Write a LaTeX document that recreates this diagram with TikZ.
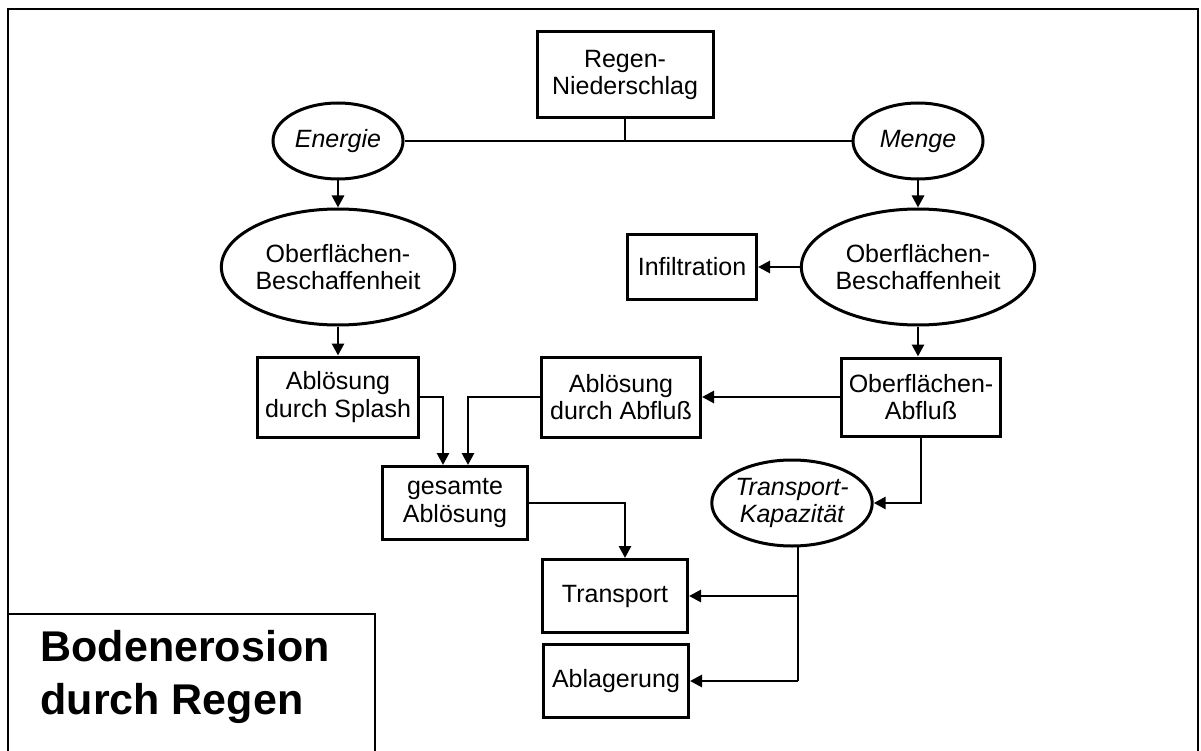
\documentclass[tikz,border=0pt]{standalone}
\usepackage{fontspec}
\setmainfont{Liberation Sans}
\usetikzlibrary{shapes.geometric,arrows.meta}
\tikzset{
  base/.style={draw, line width=3pt, align=center, inner sep=0pt, font=\fontsize{25}{27.5}\selectfont},
  boxnode/.style={base, rectangle},
  ellnode/.style={base, ellipse},
  conn/.style={line width=2.8pt},
  arr/.style={conn, -{Triangle[length=12pt,width=12pt]}},
  frameline/.style={line width=2.2pt}
}
\begin{document}
\begin{tikzpicture}[x=1pt,y=-1pt]
\useasboundingbox (0,0) rectangle (1201,751);
% frame
\draw[frameline] (8,751) -- (8,9) -- (1198,9) -- (1198,751);
\draw[frameline] (8,614) -- (375,614) -- (375,751);
\node[anchor=west, align=left, font=\fontsize{43}{53}\selectfont\bfseries] (title) at (37,677) {Bodenerosion\\durch Regen};

% nodes
\node[boxnode, minimum width=176pt, minimum height=86pt] (regen) at (625,75) {Regen-\\Niederschlag};
\node[ellnode, minimum width=130pt, minimum height=76pt] (energie) at (338,141) {\itshape Energie};
\node[ellnode, minimum width=130pt, minimum height=76pt] (menge) at (918,141) {\itshape Menge};
\node[ellnode, minimum width=216pt, minimum height=116pt] (obL) at (338,267) {Oberflächen-\\Beschaffenheit};
\node[ellnode, minimum width=216pt, minimum height=116pt] (obR) at (918,267) {Oberflächen-\\Beschaffenheit};
\node[boxnode, minimum width=129pt, minimum height=65pt] (infil) at (692,267) {Infiltration};
\node[boxnode, minimum width=161pt, minimum height=80pt] (splash) at (338,397) {Ablösung\\durch Splash};
\node[boxnode, minimum width=159pt, minimum height=80pt] (abfl) at (621,397) {Ablösung\\durch Abfluß};
\node[boxnode, minimum width=159pt, minimum height=78pt] (oa) at (921,397) {Oberflächen-\\Abfluß};
\node[boxnode, minimum width=145pt, minimum height=73pt] (ges) at (455,503) {gesamte\\Ablösung};
\node[ellnode, minimum width=160pt, minimum height=86pt] (tk) at (792,503) {\itshape Transport-\\\itshape Kapazität};
\node[boxnode, minimum width=145pt, minimum height=73pt] (transport) at (615,596) {Transport};
\node[boxnode, minimum width=145pt, minimum height=73pt] (ablag) at (616,681) {Ablagerung};

% junction coordinates
\coordinate (j1) at (regen.south |- energie.east);
\coordinate (tkb) at (798,545);
\coordinate (tkj) at (798,596);
\coordinate (tke) at (798,681);

% connectors
\draw[conn] (energie.east) -- (menge.west);
\draw[conn] (regen.south) -- (j1);
\draw[arr] (energie.south) -- (obL.north);
\draw[arr] (menge.south) -- (obR.north);
\draw[arr] (obR.west) -- (infil.east);
\draw[arr] (obL.south) -- (splash.north);
\draw[arr] (obR.south) -- (obR.south |- oa.north);
\draw[arr] (oa.west) -- (abfl.east);
\draw[arr] (splash.east) -| ([xshift=-12pt]ges.north);
\draw[arr] (abfl.west) -| ([xshift=13pt]ges.north);
\draw[arr] (ges.east) -| ([xshift=10pt]transport.north);
\draw[arr] (oa.south) |- (tk.east);
\draw[conn] (tkb) -- (tke);
\draw[arr] (tkj) -- (transport.east);
\draw[arr] (tke) -- (ablag.east);
\end{tikzpicture}
\end{document}
